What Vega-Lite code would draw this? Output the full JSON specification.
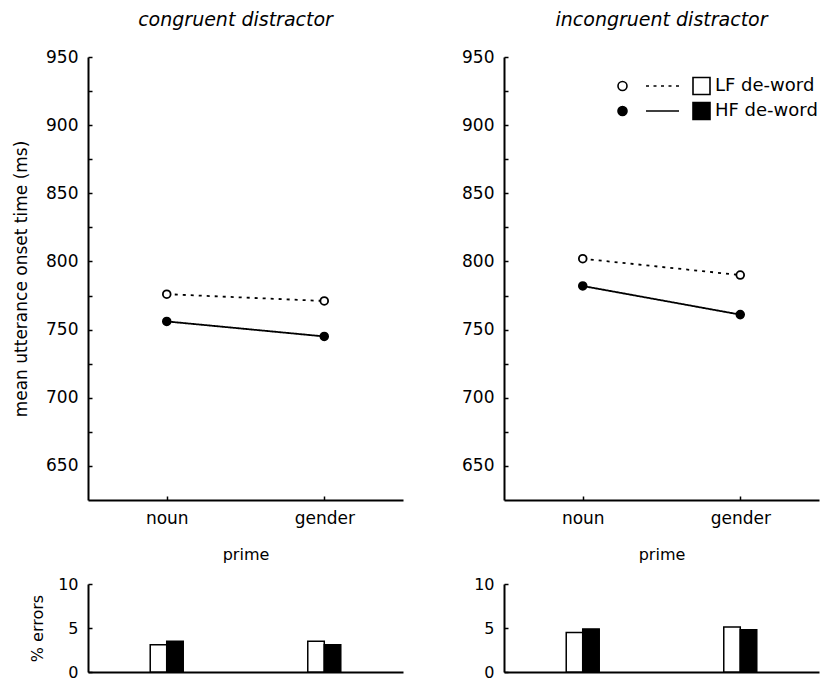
{
  "$schema": "https://vega.github.io/schema/vega-lite/v6.json",
  "padding": {"left": 12, "top": 11, "right": 5, "bottom": 0},
  "datasets": {
    "rt": [
      {"distractor": "congruent", "prime": "noun", "freq": "LF de-word", "rt": 776},
      {"distractor": "congruent", "prime": "gender", "freq": "LF de-word", "rt": 771},
      {"distractor": "congruent", "prime": "noun", "freq": "HF de-word", "rt": 756},
      {"distractor": "congruent", "prime": "gender", "freq": "HF de-word", "rt": 745},
      {"distractor": "incongruent", "prime": "noun", "freq": "LF de-word", "rt": 802},
      {"distractor": "incongruent", "prime": "gender", "freq": "LF de-word", "rt": 790},
      {"distractor": "incongruent", "prime": "noun", "freq": "HF de-word", "rt": 782},
      {"distractor": "incongruent", "prime": "gender", "freq": "HF de-word", "rt": 761}
    ],
    "err": [
      {"distractor": "congruent", "prime": "noun", "freq": "LF de-word", "err": 3.1},
      {"distractor": "congruent", "prime": "noun", "freq": "HF de-word", "err": 3.5},
      {"distractor": "congruent", "prime": "gender", "freq": "LF de-word", "err": 3.5},
      {"distractor": "congruent", "prime": "gender", "freq": "HF de-word", "err": 3.1},
      {"distractor": "incongruent", "prime": "noun", "freq": "LF de-word", "err": 4.5},
      {"distractor": "incongruent", "prime": "noun", "freq": "HF de-word", "err": 4.9},
      {"distractor": "incongruent", "prime": "gender", "freq": "LF de-word", "err": 5.1},
      {"distractor": "incongruent", "prime": "gender", "freq": "HF de-word", "err": 4.8}
    ]
  },
  "columns": 2,
  "bounds": "flush",
  "spacing": {"row": 84, "column": 101},
  "concat": [
    {
      "width": 315,
      "height": 443,
      "title": {"text": "congruent distractor", "dx": -10},
      "data": {"name": "rt"},
      "transform": [{"filter": "datum.distractor === 'congruent'"}],
      "encoding": {
        "x": {"field": "prime", "type": "nominal", "sort": ["noun", "gender"], "scale": {"type": "point", "padding": 0.5},
              "axis": {"title": "prime", "labelAngle": 0, "tickSize": -4, "labelPadding": 14, "titlePadding": 20, "titleFontSize": 16}},
        "y": {"field": "rt", "type": "quantitative", "scale": {"domain": [625, 950], "nice": false, "zero": false},
              "axis": {"title": "mean utterance onset time (ms)", "values": [650, 675, 700, 725, 750, 775, 800, 825, 850, 875, 900, 925, 950],
                       "labelExpr": "datum.value % 50 === 0 ? datum.label : ''", "tickSize": -4, "labelPadding": 14, "titlePadding": 15}}
      },
      "layer": [
        {"mark": {"type": "line", "stroke": "black", "strokeWidth": 1.8},
         "encoding": {"strokeDash": {"field": "freq", "type": "nominal", "sort": "descending", "scale": {"range": [[3, 5], [1, 0]]}, "legend": null}}},
        {"mark": {"type": "point", "shape": "circle", "filled": true, "stroke": "black", "strokeWidth": 1.8, "size": 60, "opacity": 1},
         "encoding": {"fill": {"field": "freq", "type": "nominal", "scale": {"domain": ["LF de-word", "HF de-word"], "range": ["white", "black"]}, "legend": null}}}
      ]
    },
    {
      "width": 315,
      "height": 443,
      "title": {"text": "incongruent distractor"},
      "data": {"name": "rt"},
      "transform": [{"filter": "datum.distractor === 'incongruent'"}],
      "encoding": {
        "x": {"field": "prime", "type": "nominal", "sort": ["noun", "gender"], "scale": {"type": "point", "padding": 0.5},
              "axis": {"title": "prime", "labelAngle": 0, "tickSize": -4, "labelPadding": 14, "titlePadding": 20, "titleFontSize": 16}},
        "y": {"field": "rt", "type": "quantitative", "scale": {"domain": [625, 950], "nice": false, "zero": false},
              "axis": {"title": null, "values": [650, 675, 700, 725, 750, 775, 800, 825, 850, 875, 900, 925, 950],
                       "labelExpr": "datum.value % 50 === 0 ? datum.label : ''", "tickSize": -4, "labelPadding": 14}}
      },
      "layer": [
        {"mark": {"type": "line", "stroke": "black", "strokeWidth": 1.8},
         "encoding": {"strokeDash": {"field": "freq", "type": "nominal", "sort": "descending", "scale": {"range": [[3, 5], [1, 0]]}, "legend": null}}},
        {"mark": {"type": "point", "shape": "circle", "filled": true, "stroke": "black", "strokeWidth": 1.8, "size": 60, "opacity": 1},
         "encoding": {"fill": {"field": "freq", "type": "nominal", "scale": {"domain": ["LF de-word", "HF de-word"], "range": ["white", "black"]},
           "legend": {"title": null, "orient": "none", "legendX": 188, "legendY": 19.5, "padding": 0, "rowPadding": 0,
                      "symbolSize": 289, "symbolStrokeColor": "black", "symbolStrokeWidth": 1.6, "symbolOpacity": 1, "labelOffset": 4,
                      "labelFontSize": 18, "labelColor": "black", "labelFont": "DejaVu Sans",
                      "encode": {"symbols": {"update": {"shape": {"signal": "datum.value === 'LF de-word' ? 'M -9.824 0 A 0.529 0.529 0 1 1 -8.765 0 A 0.529 0.529 0 1 1 -9.824 0 Z M -6.529 0 L -6.176 0 M -5.647 0 L -5.294 0 M -4.765 0 L -4.412 0 M -3.882 0 L -3.529 0 M -3 0 L -2.647 0 M -1 -1 L 1 -1 L 1 1 L -1 1 Z' : 'M -9.824 0 A 0.529 0.529 0 1 1 -8.765 0 A 0.529 0.529 0 1 1 -9.824 0 Z M -6.529 0 L -2.647 0 M -1 -1 L 1 -1 L 1 1 L -1 1 Z'"}}}}}}}}
      ]
    },
    {
      "width": 315,
      "height": 88,
      "data": {"name": "err"},
      "transform": [{"filter": "datum.distractor === 'congruent'"}],
      "mark": {"type": "bar", "stroke": "black", "strokeWidth": 1.5},
      "encoding": {
        "x": {"field": "prime", "type": "nominal", "sort": ["noun", "gender"], "scale": {"paddingInner": 0.7905, "paddingOuter": 0.395},
              "axis": {"title": null, "labels": false, "ticks": false}},
        "xOffset": {"field": "freq", "type": "nominal", "sort": ["LF de-word", "HF de-word"], "scale": {"paddingInner": 0, "paddingOuter": 0}},
        "y": {"field": "err", "type": "quantitative", "scale": {"domain": [0, 10], "nice": false},
              "axis": {"title": "% errors", "values": [0, 5, 10], "tickSize": -4, "labelPadding": 14, "titlePadding": 12, "labelFontSize": 16, "titleFontSize": 16}},
        "fill": {"field": "freq", "type": "nominal", "scale": {"domain": ["LF de-word", "HF de-word"], "range": ["white", "black"]}, "legend": null}
      }
    },
    {
      "width": 315,
      "height": 88,
      "data": {"name": "err"},
      "transform": [{"filter": "datum.distractor === 'incongruent'"}],
      "mark": {"type": "bar", "stroke": "black", "strokeWidth": 1.5},
      "encoding": {
        "x": {"field": "prime", "type": "nominal", "sort": ["noun", "gender"], "scale": {"paddingInner": 0.7905, "paddingOuter": 0.395},
              "axis": {"title": null, "labels": false, "ticks": false}},
        "xOffset": {"field": "freq", "type": "nominal", "sort": ["LF de-word", "HF de-word"], "scale": {"paddingInner": 0, "paddingOuter": 0}},
        "y": {"field": "err", "type": "quantitative", "scale": {"domain": [0, 10], "nice": false},
              "axis": {"title": null, "values": [0, 5, 10], "tickSize": -4, "labelPadding": 14, "labelFontSize": 16}},
        "fill": {"field": "freq", "type": "nominal", "scale": {"domain": ["LF de-word", "HF de-word"], "range": ["white", "black"]}, "legend": null}
      }
    }
  ],
  "resolve": {"scale": {"fill": "independent", "strokeDash": "independent"}},
  "config": {
    "font": "DejaVu Sans",
    "view": {"stroke": null},
    "title": {"fontSize": 19, "fontStyle": "italic", "fontWeight": "normal", "color": "black", "font": "DejaVu Sans", "offset": 18},
    "axis": {"grid": false, "domainColor": "black", "domainWidth": 2, "tickColor": "black", "tickWidth": 1.5,
             "labelColor": "black", "titleColor": "black", "labelFont": "DejaVu Sans", "titleFont": "DejaVu Sans",
             "labelFontSize": 17, "titleFontSize": 17, "titleFontWeight": "normal"}
  }
}
